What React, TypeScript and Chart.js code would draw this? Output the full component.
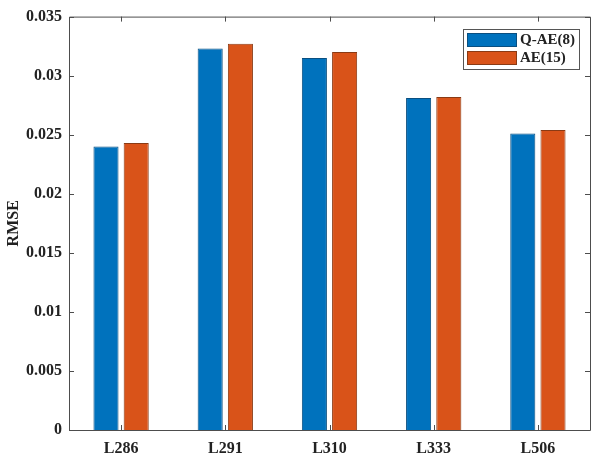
import React, { useEffect, useRef } from "react";
import { Chart, registerables } from "chart.js";

Chart.register(...registerables);

const categories = ["L286", "L291", "L310", "L333", "L506"];
const qae8 = [0.0240, 0.0323, 0.0315, 0.0281, 0.0251];
const ae15 = [0.0243, 0.0327, 0.0320, 0.0282, 0.0254];
const seriesLabels = ["Q-AE(8)", "AE(15)"];
const yTicks = [0, 0.005, 0.01, 0.015, 0.02, 0.025, 0.03, 0.035];

const FONT = "'Liberation Serif', 'Times New Roman', serif";
const AXIS_COLOR = "#4d4d4d";

const framePlugin = {
  id: "frame",
  afterDraw(chart: any) {
    const { ctx, chartArea } = chart;
    const { left, right, top, bottom } = chartArea;
    const yScale = chart.scales.y;
    const xScale = chart.scales.x;
    ctx.save();
    ctx.strokeStyle = AXIS_COLOR;
    ctx.lineWidth = 1;
    ctx.beginPath();
    ctx.rect(left + 0.5, top + 0.5, right - left, bottom - top);
    ctx.stroke();
    const tl = 5;
    ctx.beginPath();
    yScale.ticks.forEach((t: any) => {
      const y = Math.round(yScale.getPixelForValue(t.value)) + 0.5;
      ctx.moveTo(left, y);
      ctx.lineTo(left + tl, y);
      ctx.moveTo(right, y);
      ctx.lineTo(right - tl, y);
    });
    categories.forEach((_, i) => {
      const x = Math.round(xScale.getPixelForValue(i)) + 0.5;
      ctx.moveTo(x, bottom);
      ctx.lineTo(x, bottom - tl);
      ctx.moveTo(x, top);
      ctx.lineTo(x, top + tl);
    });
    ctx.stroke();

    // legend
    const bx = 463, by = 29, bw = 116, bh = 40;
    ctx.fillStyle = "#ffffff";
    ctx.fillRect(bx, by, bw, bh);
    ctx.strokeStyle = "#555555";
    ctx.strokeRect(bx + 0.5, by + 0.5, bw, bh);
    ctx.font = `bold 15px ${FONT}`;
    ctx.textBaseline = "middle";
    ctx.textAlign = "left";
    chart.data.datasets.forEach((ds: any, i: number) => {
      const sy = by + 4 + i * 18;
      ctx.fillStyle = ds.backgroundColor;
      ctx.fillRect(bx + 4, sy, 50, 14);
      ctx.strokeStyle = ds.borderColor;
      ctx.strokeRect(bx + 4.5, sy + 0.5, 49, 13);
      ctx.fillStyle = "#222222";
      ctx.fillText(ds.label, bx + 57, sy + 7.5);
    });
    ctx.restore();
  },
};

export default function App() {
  const ref = useRef<HTMLCanvasElement | null>(null);
  useEffect(() => {
    if (!ref.current) return;
    const chart = new Chart(ref.current, {
      type: "bar",
      data: {
        labels: categories,
        datasets: [
          {
            label: seriesLabels[0],
            data: qae8,
            backgroundColor: "#0072BD",
            borderColor: "#0a4f80",
            borderWidth: 1,
          },
          {
            label: seriesLabels[1],
            data: ae15,
            backgroundColor: "#D95319",
            borderColor: "#8a3a14",
            borderWidth: 1,
          },
        ],
      },
      options: {
        animation: false,
        responsive: false,
        maintainAspectRatio: false,
        layout: { padding: { left: 0, top: 16, right: 10, bottom: 0 } },
        datasets: {
          bar: { categoryPercentage: 0.58, barPercentage: 0.83 },
        },
        plugins: {
          legend: { display: false },
          tooltip: { enabled: false },
        },
        scales: {
          x: {
            grid: { display: false, drawTicks: false },
            border: { display: false },
            ticks: {
              color: "#222222",
              font: { family: FONT, size: 16, weight: "bold" },
              padding: 9,
              maxRotation: 0,
            },
            afterFit(scale: any) {
              scale.height = 31;
            },
          },
          y: {
            min: 0,
            max: 0.035,
            afterBuildTicks(scale: any) {
              scale.ticks = yTicks.map((v) => ({ value: v }));
            },
            grid: { display: false, drawTicks: false },
            border: { display: false },
            ticks: {
              color: "#222222",
              font: { family: FONT, size: 16, weight: "bold" },
              padding: 7,
              callback: (v: any) => String(Number(Number(v).toFixed(3))),
            },
            title: {
              display: true,
              text: "RMSE",
              color: "#222222",
              font: { family: FONT, size: 16, weight: "bold" },
              padding: { top: 4, bottom: 0 },
            },
            afterFit(scale: any) {
              scale.width = 69;
            },
          },
        },
      },
      plugins: [framePlugin],
    });
    return () => chart.destroy();
  }, []);
  return (
    <div style={{ position: "fixed", left: 0, top: 0, width: 600, height: 461, background: "#fff" }}>
      <canvas ref={ref} width={600} height={461} style={{ width: 600, height: 461 }} />
    </div>
  );
}
